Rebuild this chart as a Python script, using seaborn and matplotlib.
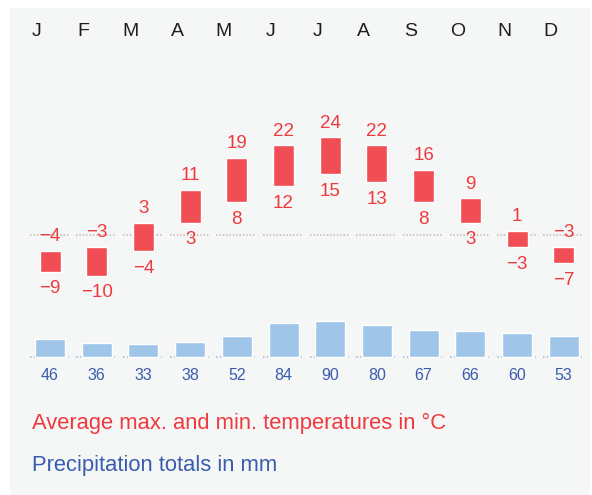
import matplotlib
matplotlib.use("Agg")
import matplotlib.pyplot as plt
import seaborn as sns
import pandas as pd

# climate data
months = ["J", "F", "M", "A", "M", "J", "J", "A", "S", "O", "N", "D"]
temp_max = [-4, -3, 3, 11, 19, 22, 24, 22, 16, 9, 1, -3]
temp_min = [-9, -10, -4, 3, 8, 12, 15, 13, 8, 3, -3, -7]
precip = [46, 36, 33, 38, 52, 84, 90, 80, 67, 66, 60, 53]

red = "#f04d55"
red_text = "#ee3a3f"
blue_bar = "#9fc5e8"
blue_text = "#3a5cae"
bg = "#f5f6f6"

sns.set_theme(style="white")
plt.rcParams["font.family"] = ["Liberation Sans", "DejaVu Sans"]

W, H = 592, 495
fig = plt.figure(figsize=(W / 100, H / 100), dpi=100)
fig.patch.set_facecolor("white")

# panel occupies (10,8)-(590,495) px
ax = fig.add_axes([10 / W, 0, 580 / W, 487 / H])
ax.set_facecolor(bg)

col = 46.7  # px per month column
x0 = 50     # px of first column centre
ax.set_xlim((10 - x0) / col, (590 - x0) / col)

# temperature scale: 0 °C at y=235 px, 4.07 px per degree
tpx = 4.07
ax.set_ylim((235 - 495) / tpx, (235 - 8) / tpx)

xs = list(range(len(months)))

# dotted zero line, one segment per column
for i in xs:
    ax.hlines(0, i - 20.5 / col, i + 18.5 / col, colors="#c9b9aa",
              linestyles=(0, (1, 1.2)), linewidth=1.1, zorder=1)

heights = [a - b for a, b in zip(temp_max, temp_min)]
ax.bar(xs, heights, bottom=temp_min, width=21 / col, color=red, zorder=2)

for i in xs:
    ax.annotate(str(temp_max[i]).replace("-", "\u2212"), (i, temp_max[i]),
                xytext=(0, 10.3), textcoords="offset points", ha="center",
                va="center", color=red_text, fontsize=13.5)
    ax.annotate(str(temp_min[i]).replace("-", "\u2212"), (i, temp_min[i]),
                xytext=(0, -12.3), textcoords="offset points", ha="center",
                va="center", color=red_text, fontsize=13.5)

# month initials sit a bit left of the columns
for i, m in enumerate(months):
    ax.text(i - 13 / col, (235 - 31) / tpx, m, ha="center", va="center",
            fontsize=14, color="#1e1e1e")

# precipitation on its own overlaid axes: baseline y=357 px, 0.4 px per mm
ax2 = fig.add_axes(ax.get_position(), frameon=False)
ppx = 0.4
df = pd.DataFrame({"month": [f"{m}{i}" for i, m in enumerate(months)],
                   "precip": precip})
for i in xs:
    ax2.hlines(0, i - 20.5 / col, i + 18.5 / col, colors="#a9b6c8",
               linestyles=(0, (1, 1.5)), linewidth=1.1, zorder=1)
sns.barplot(data=df, x="month", y="precip", color=blue_bar, saturation=1,
            width=30 / col, ax=ax2, zorder=2)
for i in xs:
    ax2.annotate(str(precip[i]), (i, 0), xytext=(0, -13.3), textcoords="offset points",
                 ha="center", va="center", color=blue_text, fontsize=11.5)
ax2.set_xlim((10 - x0) / col, (590 - x0) / col)
ax2.set_ylim((357 - 495) / ppx, (357 - 8) / ppx)

for a in (ax, ax2):
    a.set_xticks([])
    a.set_yticks([])
    a.set_xlabel("")
    a.set_ylabel("")
    for s in a.spines.values():
        s.set_visible(False)

fig.text(32 / W, 1 - 423 / H, "Average max. and min. temperatures in \u00b0C",
         ha="left", va="center", color=red_text, fontsize=15.8)
fig.text(32 / W, 1 - 466 / H, "Precipitation totals in mm",
         ha="left", va="center", color=blue_text, fontsize=15.8)

fig.savefig("out.png", dpi=100)
